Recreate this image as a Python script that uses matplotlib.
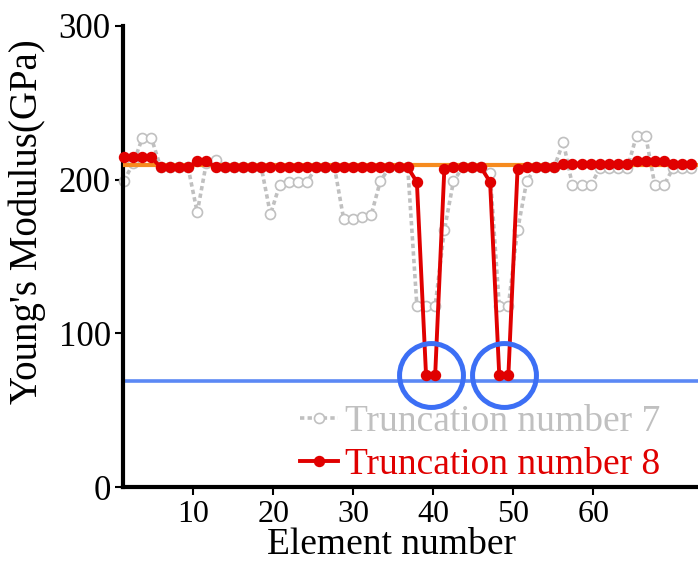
import numpy as np
import matplotlib
matplotlib.use("Agg")
import matplotlib.pyplot as plt

# ---------------- data ----------------
elements = np.arange(1, 64)
# element positions on the drawn x axis (element spacing is 1.144 axis units)
x_pos = elements * 1.144 + 0.196

trunc8 = [214.5, 214.5, 214.5, 214.5, 208, 208, 208, 208, 212, 212,
          208, 208, 208, 208, 208, 208, 208, 208, 208, 208,
          208, 208, 208, 208, 208, 208, 208, 208, 208, 208,
          208, 208, 198.5, 73, 73, 206.7, 208, 208, 208, 208,
          198.5, 73, 73, 206.7, 208, 208, 208, 208, 210.5, 210.5,
          210.5, 210.5, 210.5, 210.5, 210.5, 210.5, 212.3, 212.3, 212.3, 212.3,
          210.5, 210.5, 210.5]

trunc7 = [199.3, 210.6, 227, 227, 208, 208, 208, 208, 178.7, 211,
          213, 208, 208, 208, 208, 208, 177.5, 196.5, 198.7, 198.7,
          198.7, 208, 208, 208, 174.4, 174.4, 176, 176.8, 199, 208,
          208, 208, 118, 118, 118, 167, 199, 208, 208, 208,
          204.6, 118, 118, 167, 199, 208, 208, 208, 224.5, 196.3,
          196.3, 196.3, 207.5, 207.5, 207.5, 207.5, 228.6, 228.6, 196.5, 196.5,
          207.5, 207.5, 207.5]

true_value = 209.3
blue_level = 69
highlight_pairs = [(34, 35), (42, 43)]

xticks = [10, 20, 30, 40, 50, 60]
yticks = [0, 100, 200, 300]

# ---------------- style ----------------
plt.rcParams['font.family'] = ['Liberation Serif', 'DejaVu Serif']
RED = '#e00000'
GRAY = '#c0c0c0'
ORANGE = '#f68b1f'
BLUE_LINE = '#5b88f5'
BLUE_CIRC = '#3c6ff5'

fig = plt.figure(figsize=(6.98, 5.62), dpi=100)
ax = fig.add_axes([123.3 / 698, 75 / 562, 1 - 123.3 / 698, 461 / 562])

ax.axhline(blue_level, color=BLUE_LINE, lw=2.6, zorder=1)
ax.plot(x_pos, trunc7, color=GRAY, lw=2.6, ls=(0, (1.2, 0.9)),
        marker='o', ms=7.2, mfc='white', mec=GRAY, mew=1.2,
        label='Truncation number 7', zorder=2, clip_on=False)
ax.axhline(true_value, color=ORANGE, lw=3, zorder=3)
ax.plot(x_pos, trunc8, color=RED, lw=2.8, marker='o', ms=7.2,
        mfc=RED, mec=RED, label='Truncation number 8', zorder=4, clip_on=False)

for a, b in highlight_pairs:
    cx = (x_pos[a - 1] + x_pos[b - 1]) / 2
    cy = (trunc8[a - 1] + trunc8[b - 1]) / 2
    ax.plot([cx], [cy], marker='o', ms=46, mfc='none', mec=BLUE_CIRC,
            mew=3.6, ls='none', zorder=5)

ax.set_xlim(1.25, 73.09)
ax.set_ylim(0, 300)
ax.set_xticks(xticks)
ax.set_yticks(yticks)
for s in ['top', 'right']:
    ax.spines[s].set_visible(False)
for s in ['left', 'bottom']:
    ax.spines[s].set_linewidth(3)
ax.tick_params(axis='both', direction='out', length=6, width=1.5, pad=3)
ax.tick_params(axis='x', labelsize=23)
ax.tick_params(axis='y', labelsize=25)

ax.set_xlabel('Element number', fontsize=27)
ax.xaxis.set_label_coords(0.466, -0.088)
ax.set_ylabel("Young's Modulus(GPa)", fontsize=28)
ax.yaxis.set_label_coords(-0.135, 0.575)

leg = ax.legend(loc='lower left', bbox_to_anchor=(300 / 698, (562 - 482) / 562),
                bbox_transform=fig.transFigure, frameon=False, fontsize=27,
                handlelength=1.0, handletextpad=0.2, labelspacing=0.22,
                borderpad=0, borderaxespad=0, numpoints=1, labelcolor='linecolor')

fig.savefig('out.png', dpi=100)
